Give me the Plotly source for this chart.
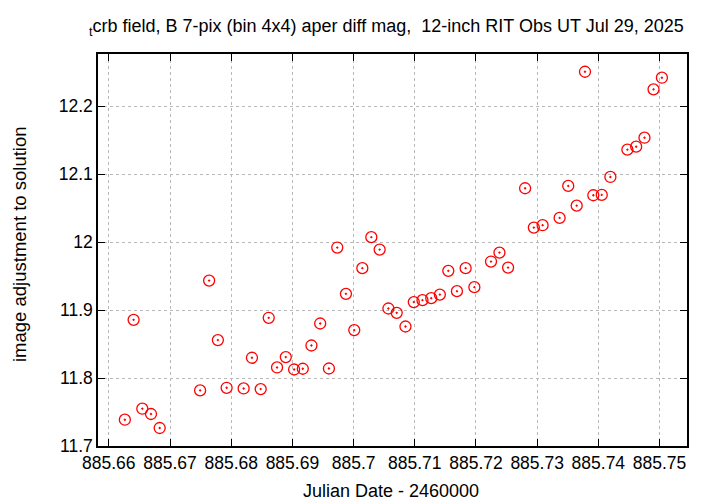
import plotly.graph_objects as go

jd = [885.66262, 885.66405, 885.66547, 885.66689, 885.66831, 885.67492, 885.67639,
      885.67782, 885.67925, 885.68203, 885.68339, 885.68482, 885.68613, 885.68749,
      885.68892, 885.69028, 885.69170, 885.69311, 885.69454, 885.69597, 885.69733,
      885.69875, 885.70011, 885.70143, 885.70290, 885.70426, 885.70569, 885.70705,
      885.70848, 885.70984, 885.71126, 885.71269, 885.71410, 885.71548, 885.71689,
      885.71831, 885.71974, 885.72246, 885.72384, 885.72525, 885.72803, 885.72946,
      885.73089, 885.73367, 885.73508, 885.73646, 885.73782, 885.73918, 885.74056,
      885.74197, 885.74475, 885.74618, 885.74754, 885.74902, 885.75039]
mag = [11.7387, 11.8857, 11.7549, 11.7471, 11.7265, 11.7818, 11.9435,
       11.8559, 11.7857, 11.7847, 11.8299, 11.7838, 11.8887, 11.8156,
       11.8309, 11.8126, 11.8137, 11.8479, 11.8803, 11.8141, 11.9921,
       11.9240, 11.8706, 11.9618, 12.0074, 11.9891, 11.9024, 11.8960,
       11.8759, 11.9118, 11.9147, 11.9176, 11.9229, 11.9578, 11.9279,
       11.9618, 11.9338, 11.9715, 11.9847, 11.9626, 12.0794, 12.0215,
       12.0250, 12.0357, 12.0828, 12.0538, 12.2509, 12.0691, 12.0696,
       12.0960, 12.1362, 12.1406, 12.1538, 12.2250, 12.2421]

x_tickvals = [885.66, 885.67, 885.68, 885.69, 885.70, 885.71, 885.72, 885.73, 885.74, 885.75]
x_ticktext = ["885.66", "885.67", "885.68", "885.69", "885.7", "885.71", "885.72", "885.73", "885.74", "885.75"]
y_tickvals = [11.7, 11.8, 11.9, 12.0, 12.1, 12.2]
y_ticktext = ["11.7", "11.8", "11.9", "12", "12.1", "12.2"]

title_text = "<sub>t</sub>crb field, B 7-pix (bin 4x4) aper diff mag,  12-inch RIT Obs UT Jul 29, 2025"
x_title = "Julian Date - 2460000"
y_title = "image adjustment to solution"

FONT = "Liberation Sans, Arial, sans-serif"
OFF = 8  # default page body margin
L, R, T, B = 98 - OFF, 33, 54 - OFF, 58
W, H = 720 - OFF, 504 - OFF
PW, PH = W - L - R, H - T - B

fig = go.Figure()
fig.add_trace(go.Scatter(
    x=jd, y=mag, mode="markers",
    marker=dict(symbol="circle-open-dot", size=11, color="#ff0000",
                line=dict(color="#ff0000", width=1.3)),
    showlegend=False,
))

axis_common = dict(
    showline=True, linecolor="black", linewidth=1.5, mirror="ticks",
    ticks="inside", ticklen=7, tickwidth=1, tickcolor="black",
    showgrid=True, gridcolor="#b8b8b8", griddash="dot", gridwidth=1,
    zeroline=False, tickfont=dict(family=FONT, size=17.5, color="black"),
    tickmode="array", automargin=False,
)

fig.update_xaxes(**axis_common, range=[885.65823, 885.75449],
                 tickvals=x_tickvals, ticktext=x_ticktext)
fig.update_yaxes(**axis_common, range=[11.7, 12.277],
                 tickvals=y_tickvals, ticktext=y_ticktext)

def px_x(px):
    return (px - OFF - L) / PW

def px_y(py):
    return (H - B - (py - OFF)) / PH

fig.add_annotation(text=title_text, xref="paper", yref="paper", x=px_x(386), y=px_y(28),
                   xanchor="center", yanchor="middle", showarrow=False,
                   font=dict(family=FONT, size=18, color="black"))
fig.add_annotation(text=x_title, xref="paper", yref="paper", x=px_x(391), y=px_y(491),
                   xanchor="center", yanchor="middle", showarrow=False,
                   font=dict(family=FONT, size=18, color="black"))
fig.add_annotation(text=y_title, xref="paper", yref="paper", x=px_x(19), y=px_y(244),
                   xanchor="center", yanchor="middle", showarrow=False, textangle=-90,
                   font=dict(family=FONT, size=18.5, color="black"))

fig.update_layout(
    width=W, height=H,
    margin=dict(l=L, r=R, t=T, b=B),
    plot_bgcolor="white", paper_bgcolor="white",
)

fig.write_html("out.html")
